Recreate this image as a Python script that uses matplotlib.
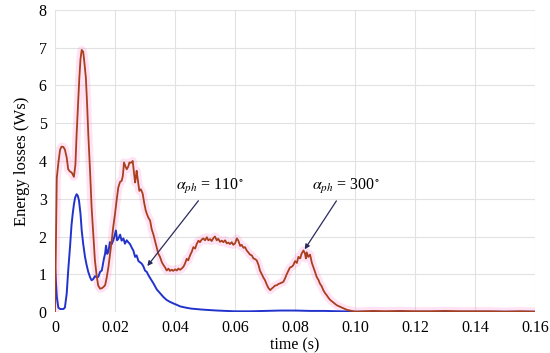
import matplotlib
matplotlib.use("Agg")
import matplotlib.pyplot as plt

# energy losses: (time s, Ws)
red_pts = [
    (0, 0), (0.0006, 3.56), (0.0012, 4.0), (0.0017, 4.3), (0.0022, 4.38), (0.0028, 4.37),
    (0.0033, 4.3), (0.0039, 4.09), (0.0044, 3.78), (0.005, 3.72), (0.0056, 3.69), (0.0063, 3.58),
    (0.0068, 3.9), (0.0072, 4.7), (0.0077, 5.5), (0.0081, 6.19), (0.0085, 6.7), (0.0089, 6.94),
    (0.0094, 6.89), (0.0098, 6.6), (0.0103, 6.19), (0.0107, 5.5), (0.0111, 4.7), (0.0117, 3.7),
    (0.0122, 2.77), (0.0128, 2.0), (0.0133, 1.37), (0.0139, 0.95), (0.0144, 0.7), (0.015, 0.62),
    (0.0156, 0.63), (0.0161, 0.66), (0.0167, 0.71), (0.0172, 0.9), (0.0178, 1.19), (0.0183, 1.5),
    (0.0189, 1.89), (0.0194, 2.25), (0.02, 2.6), (0.0206, 3.0), (0.0211, 3.3), (0.0217, 3.45),
    (0.0222, 3.47), (0.0226, 3.6), (0.023, 3.96), (0.0235, 3.85), (0.0239, 3.78), (0.0244, 3.85),
    (0.0248, 3.96), (0.0253, 3.95), (0.0259, 4.0), (0.0263, 3.7), (0.0267, 3.43), (0.027, 3.6),
    (0.0272, 3.74), (0.0277, 3.45), (0.0281, 3.21), (0.0286, 3.25), (0.0292, 3.14), (0.0297, 2.9),
    (0.0302, 2.7), (0.0306, 2.6), (0.0311, 2.5), (0.0317, 2.42), (0.0322, 2.2), (0.0328, 2.05),
    (0.0333, 1.89), (0.0339, 1.7), (0.0344, 1.55), (0.035, 1.46), (0.0356, 1.32), (0.0361, 1.25),
    (0.0367, 1.18), (0.0372, 1.1), (0.0378, 1.15), (0.0383, 1.09), (0.0389, 1.12), (0.0394, 1.09),
    (0.04, 1.13), (0.0406, 1.1), (0.0411, 1.15), (0.0417, 1.12), (0.0422, 1.15), (0.0428, 1.2),
    (0.0433, 1.28), (0.0439, 1.41), (0.0444, 1.37), (0.045, 1.5), (0.0456, 1.6), (0.0461, 1.72),
    (0.0467, 1.68), (0.0472, 1.8), (0.0478, 1.89), (0.0483, 1.85), (0.0489, 1.92), (0.0494, 1.95),
    (0.05, 1.9), (0.0506, 1.98), (0.0511, 1.9), (0.0517, 1.93), (0.0522, 1.88), (0.0528, 1.96),
    (0.0533, 2.0), (0.0539, 1.9), (0.0544, 1.94), (0.055, 1.86), (0.0556, 1.89), (0.0561, 1.85),
    (0.0567, 1.9), (0.0572, 1.82), (0.0578, 1.84), (0.0583, 1.8), (0.0589, 1.85), (0.0594, 1.78),
    (0.06, 1.82), (0.0606, 1.95), (0.0611, 1.89), (0.0617, 1.75), (0.0622, 1.78), (0.0628, 1.7),
    (0.0633, 1.72), (0.0639, 1.63), (0.0644, 1.58), (0.065, 1.52), (0.0656, 1.5), (0.0661, 1.42),
    (0.0667, 1.4), (0.0672, 1.37), (0.0678, 1.25), (0.0683, 1.1), (0.0689, 1.0), (0.0694, 0.92),
    (0.07, 0.84), (0.0706, 0.72), (0.0711, 0.64), (0.0717, 0.58), (0.0722, 0.62), (0.0728, 0.66),
    (0.0733, 0.7), (0.0739, 0.71), (0.0744, 0.74), (0.075, 0.76), (0.0756, 0.78), (0.0761, 0.8),
    (0.0767, 0.9), (0.0772, 1.0), (0.0778, 1.1), (0.0783, 1.18), (0.0789, 1.2), (0.0794, 1.24),
    (0.08, 1.35), (0.0806, 1.3), (0.0811, 1.46), (0.0817, 1.42), (0.0822, 1.55), (0.0828, 1.63),
    (0.0833, 1.55), (0.0836, 1.42), (0.0839, 1.58), (0.0844, 1.46), (0.085, 1.52), (0.0856, 1.3),
    (0.0861, 1.19), (0.0867, 1.05), (0.0872, 0.93), (0.0878, 0.85), (0.0883, 0.75), (0.0889, 0.68),
    (0.0894, 0.58), (0.09, 0.5), (0.0906, 0.44), (0.0911, 0.38), (0.0917, 0.32), (0.0928, 0.25),
    (0.0939, 0.18), (0.095, 0.14), (0.0961, 0.1), (0.0972, 0.06), (0.0983, 0.04), (0.0994, 0.02),
    (0.1, 0.01), (0.103, 0.02), (0.106, 0.03), (0.11, 0.02), (0.115, 0.03), (0.12, 0.02),
    (0.125, 0.02), (0.13, 0.03), (0.135, 0.02), (0.14, 0.02), (0.145, 0.02), (0.15, 0.01),
    (0.155, 0.02), (0.16, 0.01),
]
blue_pts = [
    (0, 1.2), (0.0003, 0.8), (0.0006, 0.4), (0.0011, 0.12), (0.0017, 0.08), (0.0022, 0.08),
    (0.0028, 0.08), (0.0033, 0.12), (0.0039, 0.49), (0.0044, 1.1), (0.005, 1.72), (0.0055, 2.3),
    (0.0059, 2.6), (0.0063, 2.85), (0.0067, 3.03), (0.0072, 3.12), (0.0076, 3.08), (0.008, 2.95),
    (0.0085, 2.6), (0.0089, 2.16), (0.0094, 1.8), (0.01, 1.46), (0.0106, 1.22), (0.0111, 1.06),
    (0.0117, 0.92), (0.0122, 0.84), (0.0128, 0.88), (0.0133, 0.95), (0.0139, 0.92), (0.0144, 0.93),
    (0.015, 1.06), (0.0156, 1.1), (0.0163, 1.41), (0.0167, 1.55), (0.017, 1.76), (0.0174, 1.54),
    (0.0178, 1.6), (0.0183, 1.85), (0.0189, 1.8), (0.0194, 1.9), (0.0198, 2.0), (0.0203, 2.16),
    (0.0207, 1.9), (0.0211, 1.94), (0.0217, 2.05), (0.0222, 1.89), (0.0228, 1.95), (0.0233, 1.81),
    (0.0239, 1.9), (0.0244, 1.85), (0.025, 1.8), (0.0256, 1.7), (0.0261, 1.63), (0.0267, 1.46),
    (0.0272, 1.5), (0.0278, 1.35), (0.0283, 1.32), (0.0289, 1.28), (0.0294, 1.22), (0.03, 1.1),
    (0.0306, 1.06), (0.0311, 0.98), (0.0317, 0.9), (0.0328, 0.76), (0.0339, 0.6), (0.035, 0.5),
    (0.0361, 0.4), (0.0372, 0.32), (0.0383, 0.27), (0.0394, 0.23), (0.0406, 0.19), (0.0417, 0.15),
    (0.0428, 0.13), (0.044, 0.11), (0.0455, 0.09), (0.047, 0.08), (0.0483, 0.07), (0.05, 0.06),
    (0.052, 0.05), (0.054, 0.04), (0.057, 0.03), (0.06, 0.02), (0.065, 0.02), (0.07, 0.03),
    (0.075, 0.04), (0.08, 0.04), (0.085, 0.03), (0.09, 0.03), (0.095, 0.02), (0.1, 0.01),
    (0.105, 0.01), (0.11, 0.01), (0.12, 0.01), (0.13, 0.01), (0.14, 0.01), (0.15, 0.01), (0.16, 0.01),
]
red_t, red_y = zip(*red_pts)
blue_t, blue_y = zip(*blue_pts)

xticks = [0, 0.02, 0.04, 0.06, 0.08, 0.10, 0.12, 0.14, 0.16]
xlabels = ["0", "0.02", "0.04", "0.06", "0.08", "0.10", "0.12", "0.14", "0.16"]
yticks = [0, 1, 2, 3, 4, 5, 6, 7, 8]

plt.rcParams['font.family'] = ['Liberation Serif', 'DejaVu Serif']
plt.rcParams['mathtext.fontset'] = 'stix'

fig = plt.figure(figsize=(5.5, 3.53), dpi=100)
ax = fig.add_axes([0.1, 0.116, 0.873, 0.856])

ax.plot(red_t, red_y, color='#ff77cc', lw=6, alpha=0.2, solid_joinstyle='round')
ax.plot(blue_t, blue_y, color='#2233cc', lw=1.4)
ax.plot(red_t, red_y, color='#a8401e', lw=1.3)

ax.set_xlim(0, 0.16)
ax.set_ylim(0, 8)
ax.set_xticks(xticks)
ax.set_xticklabels(xlabels)
ax.set_yticks(yticks)
ax.grid(True, color='#e2e2e2', lw=0.8)
ax.set_axisbelow(True)
for s in ax.spines.values():
    s.set_visible(False)
ax.tick_params(length=0, labelsize=11.5, pad=6)
ax.set_xlabel("time (s)", fontsize=11.5, labelpad=1)
ax.set_ylabel("Energy losses (Ws)", fontsize=12, labelpad=6)

arrow = dict(arrowstyle='-|>', color='#2b2b5e', lw=0.9, mutation_scale=7)
ax.annotate(r'$\alpha_{ph}$ = 110$^{\circ}$', xy=(0.0302, 1.16), xytext=(0.0403, 3.24),
            fontsize=11.5, arrowprops=arrow)
ax.annotate(r'$\alpha_{ph}$ = 300$^{\circ}$', xy=(0.0827, 1.6), xytext=(0.0857, 3.24),
            fontsize=11.5, arrowprops=arrow)
plt.setp(ax.texts, zorder=5)

plt.savefig("out.png", dpi=100)
